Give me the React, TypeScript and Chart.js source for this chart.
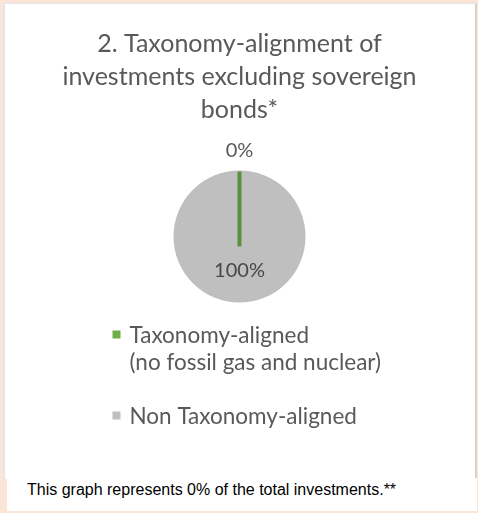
import { useEffect, useRef } from "react";
import { Chart, registerables } from "chart.js";

Chart.register(...registerables);

const titleLines = ["2. Taxonomy-alignment of", "investments excluding sovereign", "bonds*"];
const categories: (string | string[])[] = [
  ["Taxonomy-aligned", "(no fossil gas and nuclear)"],
  "Non Taxonomy-aligned",
];
const shares = [0, 100];
const percentLabels = ["0%", "100%"];
const sliceColors = ["#70AD47", "#BFBFBF"];
const zeroLineColor = "#5A8F3C";
const footnote = "This graph represents 0% of the total investments.**";

const TEXT = "#595959";
const FONT = "Lato";

const pieExtras = {
  id: "pieExtras",
  afterDatasetsDraw(chart: any) {
    const ctx: CanvasRenderingContext2D = chart.ctx;
    const meta = chart.getDatasetMeta(0);
    const ds = chart.data.datasets[0];
    let cx = 0;
    let cy = 0;
    let R = 0;
    ctx.save();
    meta.data.forEach((arc: any, i: number) => {
      const p = arc.getProps(["x", "y", "startAngle", "endAngle", "outerRadius"], true);
      cx = p.x;
      cy = p.y;
      R = p.outerRadius;
      if (ds.data[i] === 0) {
        const a = p.startAngle;
        ctx.strokeStyle = zeroLineColor;
        ctx.lineWidth = 4;
        ctx.lineCap = "butt";
        ctx.beginPath();
        ctx.moveTo(p.x + Math.cos(a) * (p.outerRadius - 1), p.y + Math.sin(a) * (p.outerRadius - 1));
        ctx.lineTo(p.x - Math.cos(a) * p.outerRadius * 0.15, p.y - Math.sin(a) * p.outerRadius * 0.15);
        ctx.stroke();
      }
    });
    // percentage labels
    ctx.font = `20px ${FONT}`;
    ctx.textAlign = "center";
    ctx.textBaseline = "middle";
    meta.data.forEach((arc: any, i: number) => {
      const p = arc.getProps(["x", "y", "startAngle", "endAngle", "outerRadius"], true);
      const mid = (p.startAngle + p.endAngle) / 2;
      const dist = ds.data[i] === 0 ? p.outerRadius + 20 : p.outerRadius * 0.52;
      ctx.fillStyle = ds.data[i] === 0 ? TEXT : "#474747";
      ctx.fillText(percentLabels[i], p.x + Math.cos(mid) * dist, p.y + Math.sin(mid) * dist);
    });
    // legend
    const labels = chart.data.labels as (string | string[])[];
    const lx = cx - 127;
    let baseline = cy + R + 40;
    const step = 27;
    ctx.textAlign = "left";
    ctx.textBaseline = "alphabetic";
    ctx.font = `22.5px ${FONT}`;
    labels.forEach((lab, i) => {
      const lines = Array.isArray(lab) ? lab : [lab];
      ctx.fillStyle = sliceColors[i];
      ctx.fillRect(lx, baseline - 12, 8, 8);
      ctx.fillStyle = TEXT;
      lines.forEach((t, k) => {
        ctx.fillText(t, lx + 17, baseline + k * step);
      });
      baseline += (lines.length + 1) * step;
    });
    ctx.restore();
  },
};

export default function App() {
  const ref = useRef<HTMLCanvasElement | null>(null);

  useEffect(() => {
    if (!ref.current) return;
    const chart = new Chart(ref.current, {
      type: "pie",
      data: {
        labels: categories,
        datasets: [
          {
            data: shares,
            backgroundColor: sliceColors,
            borderWidth: 0,
            radius: 66,
          } as any,
        ],
      },
      options: {
        animation: false,
        responsive: false,
        devicePixelRatio: 1,
        layout: { padding: { top: 0, bottom: 148, left: 1, right: 0 } },
        plugins: {
          legend: { display: false },
          tooltip: { enabled: false },
          title: {
            display: true,
            text: titleLines,
            color: TEXT,
            font: { family: FONT, size: 25, weight: "normal", lineHeight: 1.32 },
            padding: { top: 27, bottom: 17 },
          },
        },
      },
      plugins: [pieExtras],
    });
    return () => chart.destroy();
  }, []);

  return (
    <div
      style={{
        position: "absolute",
        left: 0,
        top: 0,
        width: 478,
        height: 513,
        background: "#FBE5D6",
        overflow: "hidden",
      }}
    >
      <div
        style={{
          position: "absolute",
          left: 3,
          top: 3,
          width: 474,
          height: 476,
          boxSizing: "border-box",
          background: "#FFFFFF",
          borderLeft: "2px solid #E2E5EC",
          borderTop: "1px solid #E6E6EA",
          borderRight: "2px solid #D3D3D3",
        }}
      />
      <canvas
        ref={ref}
        width={478}
        height={478}
        style={{ position: "absolute", left: 0, top: 0, width: 478, height: 478 }}
      />
      <div
        style={{
          position: "absolute",
          left: 7,
          top: 478,
          width: 470,
          height: 33,
          background: "#FFFFFF",
        }}
      >
        <span
          style={{
            position: "absolute",
            left: 20,
            top: 4,
            fontFamily: "'Liberation Sans', Arial, sans-serif",
            fontSize: 16,
            lineHeight: "16px",
            color: "#000000",
            whiteSpace: "nowrap",
          }}
        >
          {footnote}
        </span>
      </div>
    </div>
  );
}
